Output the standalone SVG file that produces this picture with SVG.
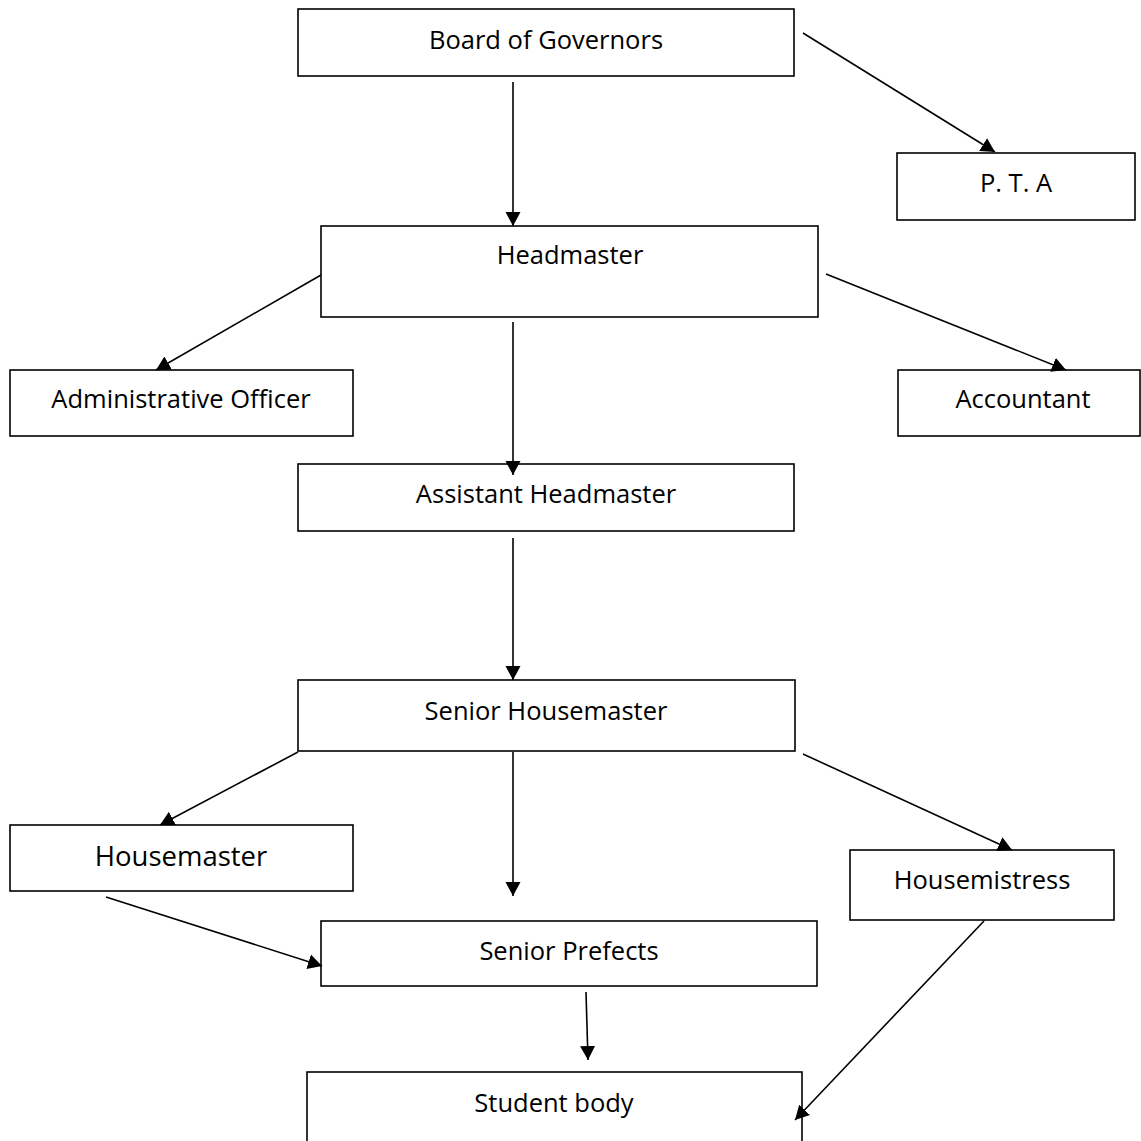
<svg xmlns="http://www.w3.org/2000/svg" width="1141" height="1141" viewBox="0 0 1141 1141">
<style>
.box{fill:#fff;stroke:#000;stroke-width:1.6}
.lbl{font-family:"Open Sans","Liberation Sans",sans-serif;font-size:25.5px;fill:#000;text-anchor:middle}
.big{font-size:27.5px}
.con line{stroke:#000;stroke-width:1.6;marker-end:url(#ah)}
</style>
<defs>
<marker id="ah" markerUnits="userSpaceOnUse" markerWidth="16" markerHeight="16" refX="14" refY="8" orient="auto">
<path d="M0,0.5 L14,8 L0,15.5 z" fill="#000"/>
</marker>
</defs>
<rect width="1141" height="1141" fill="#fff"/>
<g id="n-bog"><rect class="box" x="298" y="9" width="496" height="67"/><text class="lbl" x="546" y="49">Board of Governors</text></g>
<g id="n-pta"><rect class="box" x="897" y="153" width="238" height="67"/><text class="lbl" x="1016" y="192">P. T. A</text></g>
<g id="n-head"><rect class="box" x="321" y="226" width="497" height="91"/><text class="lbl" x="570" y="264">Headmaster</text></g>
<g id="n-admin"><rect class="box" x="10" y="370" width="343" height="66"/><text class="lbl" x="181" y="408">Administrative Officer</text></g>
<g id="n-acc"><rect class="box" x="898" y="370" width="242" height="66"/><text class="lbl" x="1023" y="408">Accountant</text></g>
<g id="n-asst"><rect class="box" x="298" y="464" width="496" height="67"/><text class="lbl" x="546" y="503">Assistant Headmaster</text></g>
<g id="n-shm"><rect class="box" x="298" y="680" width="497" height="71"/><text class="lbl" x="546" y="720">Senior Housemaster</text></g>
<g id="n-hm"><rect class="box" x="10" y="825" width="343" height="66"/><text class="lbl big" x="181" y="866">Housemaster</text></g>
<g id="n-hmi"><rect class="box" x="850" y="850" width="264" height="70"/><text class="lbl" x="982" y="889">Housemistress</text></g>
<g id="n-sp"><rect class="box" x="321" y="921" width="496" height="65"/><text class="lbl" x="569" y="960">Senior Prefects</text></g>
<g id="n-sb"><rect class="box" x="307" y="1072" width="495" height="80"/><text class="lbl" x="554" y="1112">Student body</text></g>
<g id="connectors" class="con">
<line x1="513" y1="82" x2="513" y2="226"/>
<line x1="803" y1="33" x2="995" y2="152"/>
<line x1="321" y1="275" x2="156" y2="370"/>
<line x1="826" y1="274" x2="1066" y2="370"/>
<line x1="513" y1="322" x2="513" y2="475"/>
<line x1="513" y1="538" x2="513" y2="680"/>
<line x1="298" y1="752" x2="160" y2="825"/>
<line x1="803" y1="754" x2="1012" y2="850"/>
<line x1="513" y1="752" x2="513" y2="896"/>
<line x1="106" y1="897" x2="322" y2="966"/>
<line x1="586" y1="992" x2="588" y2="1060"/>
<line x1="984" y1="921" x2="795" y2="1120"/>
</g>
</svg>
